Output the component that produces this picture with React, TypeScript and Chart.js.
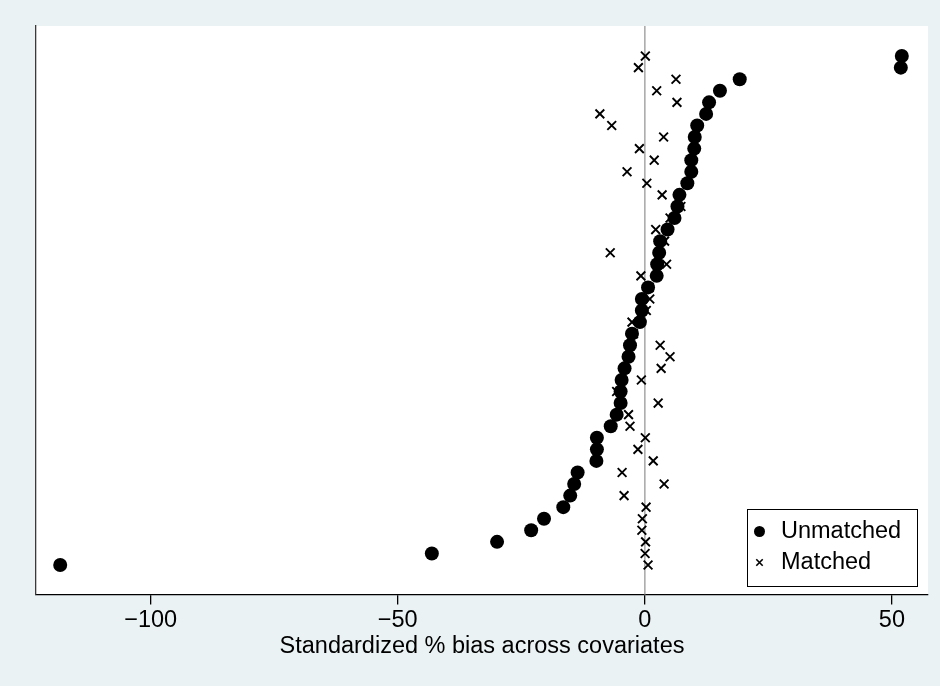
import React, { useEffect, useRef } from "react";
import { Chart, registerables } from "chart.js";

Chart.register(...registerables);

// Standardized % bias per covariate, listed from the top row to the bottom row
const unmatched: number[] = [
  52.0, 51.8, 19.2, 15.2, 13.0, 12.4, 10.6, 10.1, 10.0, 9.4, 9.4, 8.6, 7.0, 6.6, 6.0,
  4.6, 3.1, 2.9, 2.5, 2.4, 0.65, -0.6, -0.6, -1.0, -2.6, -3.0, -3.3, -4.1, -4.7, -4.9,
  -4.9, -5.7, -6.9, -9.7, -9.7, -9.8, -13.6, -14.3, -15.1, -16.5, -20.4, -23.0, -29.9,
  -43.1, -118.3,
];
const matched: number[] = [
  0.1, -1.3, 6.3, 2.4, 6.5, -9.1, -6.7, 3.8, -1.1, 1.9, -3.6, 0.4, 3.5, 7.3, 5.1,
  2.2, 4.0, -7.0, 4.4, -0.8, 0.9, 1.0, 0.3, -2.6, -2.3, 3.1, 5.1, 3.3, -0.7, -5.7,
  2.7, -3.3, -3.0, 0.1, -1.4, 1.7, -4.6, 3.9, -4.2, 0.25, -0.5, -0.6, 0.15, 0.05, 0.65,
];
const seriesLabels: string[] = ["Unmatched", "Matched"];
const xTicks: number[] = [-100, -50, 0, 50];
const xTitle = "Standardized % bias across covariates";

const FONT = "'Liberation Sans', Arial, Helvetica, sans-serif";
const FS = 23.5;

const toPoints = (vals: number[]) =>
  vals.map((v, i) => ({ x: v, y: vals.length - 1 - i }));

const bgPlugin = {
  id: "stataBg",
  beforeDraw(chart: any) {
    const { ctx, chartArea } = chart;
    ctx.save();
    ctx.fillStyle = "#ffffff";
    ctx.fillRect(chartArea.left, chartArea.top, chartArea.right - chartArea.left, chartArea.bottom - chartArea.top);
    ctx.restore();
  },
  beforeDatasetsDraw(chart: any) {
    const { ctx, chartArea, scales } = chart;
    const x0 = scales.x.getPixelForValue(0);
    ctx.save();
    ctx.strokeStyle = "#acacac";
    ctx.lineWidth = 1.6;
    ctx.beginPath();
    ctx.moveTo(x0, chartArea.top);
    ctx.lineTo(x0, chartArea.bottom);
    ctx.stroke();
    ctx.restore();
  },
  afterDraw(chart: any) {
    const { ctx, chartArea } = chart;
    const right = chartArea.right - 11;
    const bottom = chartArea.bottom - 8.5;
    const w = 170;
    const h = 77;
    const left = right - w;
    const top = bottom - h;
    ctx.save();
    ctx.fillStyle = "#ffffff";
    ctx.fillRect(left, top, w, h);
    ctx.strokeStyle = "#000000";
    ctx.lineWidth = 1;
    ctx.strokeRect(left + 0.5, top + 0.5, w, h);
    const mx = left + 12.5;
    const y1 = top + 22.5;
    const y2 = top + 53.5;
    ctx.fillStyle = "#000000";
    ctx.beginPath();
    ctx.arc(mx, y1, 5.5, 0, Math.PI * 2);
    ctx.fill();
    ctx.strokeStyle = "#000000";
    ctx.lineWidth = 1.6;
    ctx.beginPath();
    const c = 3.2;
    ctx.moveTo(mx - c, y2 - c);
    ctx.lineTo(mx + c, y2 + c);
    ctx.moveTo(mx - c, y2 + c);
    ctx.lineTo(mx + c, y2 - c);
    ctx.stroke();
    ctx.font = `${FS}px ${FONT}`;
    ctx.textBaseline = "middle";
    ctx.textAlign = "left";
    ctx.fillText(seriesLabels[0], left + 34, y1 + 0.5);
    ctx.fillText(seriesLabels[1], left + 34, y2 + 0.5);
    ctx.restore();
  },
};

export default function App() {
  const ref = useRef<HTMLCanvasElement | null>(null);
  useEffect(() => {
    if (!ref.current) return;
    const chart = new Chart(ref.current, {
      type: "scatter",
      data: {
        datasets: [
          {
            label: seriesLabels[0],
            data: toPoints(unmatched),
            pointStyle: "circle",
            pointRadius: 7,
            pointHoverRadius: 7,
            pointBackgroundColor: "#000000",
            pointBorderColor: "#000000",
            pointBorderWidth: 0,
          },
          {
            label: seriesLabels[1],
            data: toPoints(matched),
            pointStyle: "crossRot",
            pointRadius: 6.2,
            pointHoverRadius: 6.2,
            pointBackgroundColor: "#000000",
            pointBorderColor: "#000000",
            pointBorderWidth: 1.9,
          },
        ],
      },
      plugins: [bgPlugin],
      options: {
        animation: false,
        responsive: false,
        devicePixelRatio: 1,
        events: [],
        layout: { padding: { left: 36, right: 12, top: 26, bottom: 0 } },
        plugins: {
          legend: { display: false },
          tooltip: { enabled: false },
          title: { display: false },
        },
        scales: {
          x: {
            type: "linear",
            min: -123.2,
            max: 57.3,
            afterFit: (s: any) => {
              s.height = 91.5;
            },
            afterBuildTicks: (s: any) => {
              s.ticks = xTicks.map((v) => ({ value: v }));
            },
            grid: {
              display: true,
              drawOnChartArea: false,
              drawTicks: true,
              tickLength: 10,
              color: "#000000",
              lineWidth: 1.3,
            },
            border: { display: true, color: "#000000", width: 1.3 },
            ticks: {
              color: "#000000",
              font: { family: FONT, size: FS },
              padding: 2,
              maxRotation: 0,
              autoSkip: false,
              callback: (v: any) => (Number(v) < 0 ? "\u2212" + Math.abs(Number(v)) : String(v)),
            },
            title: {
              display: true,
              text: xTitle,
              color: "#000000",
              font: { family: FONT, size: FS },
              padding: { top: 4, bottom: 25 },
            },
          },
          y: {
            type: "linear",
            min: -2.55,
            max: 46.6,
            afterFit: (s: any) => {
              s.width = 0;
            },
            grid: { display: false },
            border: { display: true, color: "#3a3a3a", width: 1.3 },
            ticks: { display: false },
          },
        },
      },
    });
    return () => chart.destroy();
  }, []);
  return (
    <div
      style={{
        position: "fixed",
        left: 0,
        top: 0,
        width: 940,
        height: 686,
        background: "#EAF2F3",
      }}
    >
      <canvas ref={ref} width={940} height={686} style={{ display: "block", width: 940, height: 686 }} />
    </div>
  );
}
